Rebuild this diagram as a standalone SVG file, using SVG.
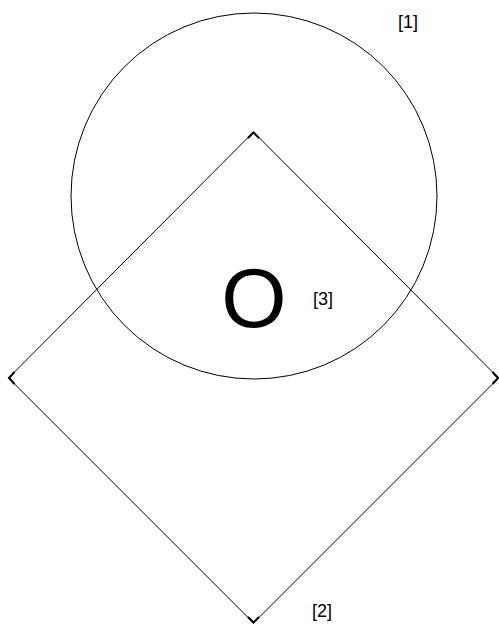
<svg xmlns="http://www.w3.org/2000/svg" width="499" height="627" viewBox="0 0 499 627">
<style>
.ln{fill:none;stroke:#000;stroke-width:1}
.cn{fill:none;stroke:#000;stroke-width:2;stroke-linejoin:miter}
.lb{font-family:"Liberation Sans",Arial,sans-serif;font-size:18px;fill:#000}
.big{font-family:"Liberation Sans",Arial,sans-serif;font-size:84px;fill:#000}
</style>
<rect width="499" height="627" fill="#fff"/>
<g id="circle1"><circle class="ln" cx="254" cy="196" r="183"/></g>
<g id="diamond2">
<polygon class="ln" points="253.5,132 498.5,378 253.5,623 8.5,378"/>
<polyline class="cn" points="248,138 253.5,132.5 259,138"/>
<polyline class="cn" points="492.5,372 498,378 492.5,384"/>
<polyline class="cn" points="248,617 253.5,622.5 259,617"/>
<polyline class="cn" points="14.5,372 9,378 14.5,384"/>
</g>
<g id="center3"><text class="big" x="254" y="327" text-anchor="middle">O</text></g>
<g id="labels">
<text class="lb" x="408" y="28" text-anchor="middle">[1]</text>
<text class="lb" x="322" y="617" text-anchor="middle">[2]</text>
<text class="lb" x="323" y="305" text-anchor="middle">[3]</text>
</g>
</svg>
